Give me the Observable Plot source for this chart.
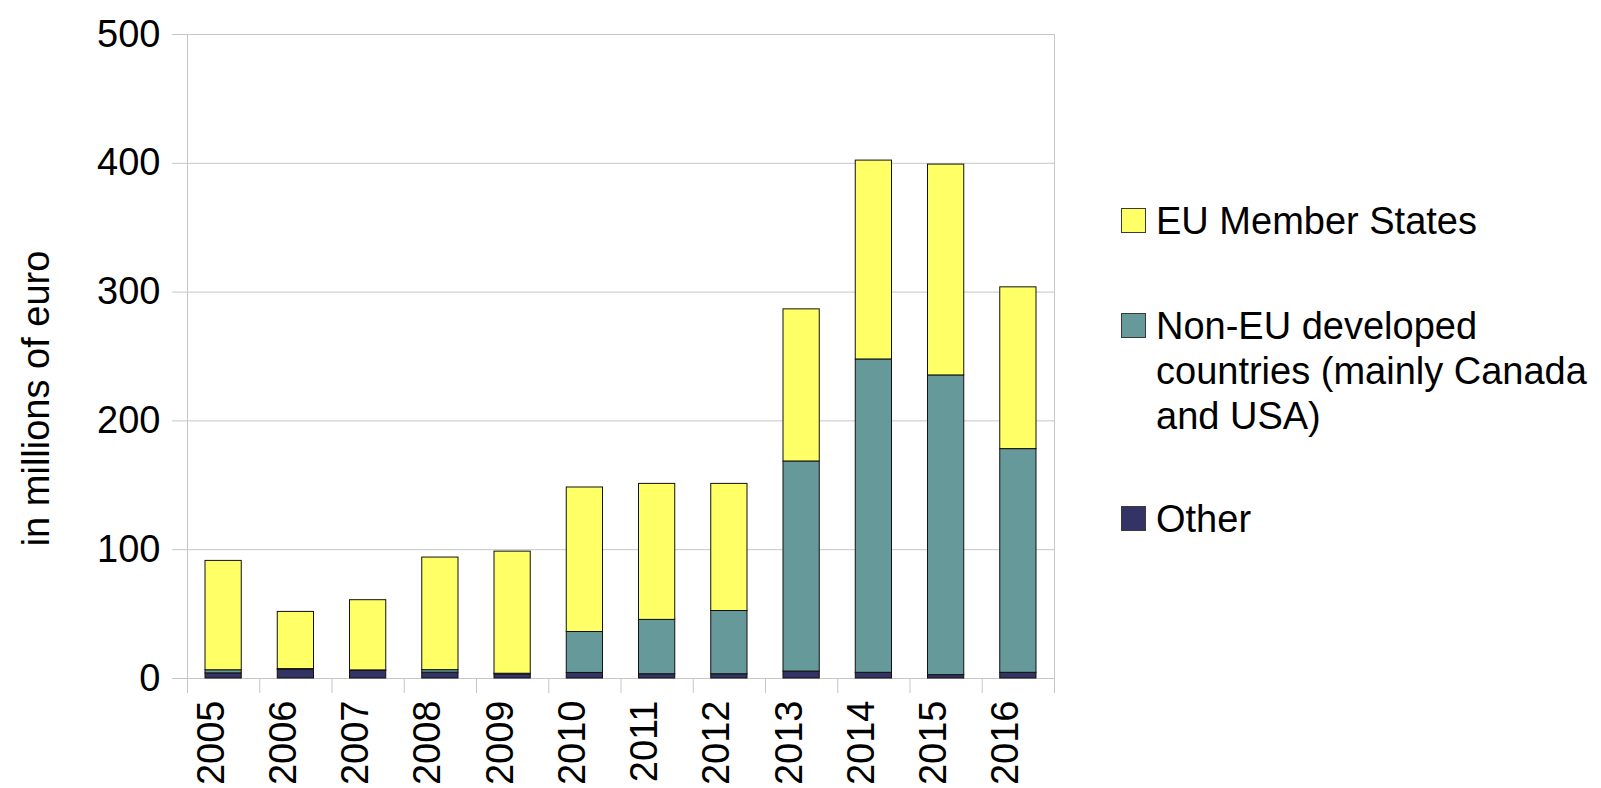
<!DOCTYPE html>
<html><head><meta charset="utf-8">
<script src="https://cdn.jsdelivr.net/npm/d3@7"></script>
<script src="https://cdn.jsdelivr.net/npm/@observablehq/plot@0.6"></script>
<style>
body{margin:0;background:#fff;overflow:hidden}
#wrap{position:relative;width:1601px;height:788px;font-family:"Liberation Sans",Arial,sans-serif}
.leg{position:absolute;left:1121px;font-size:38px;line-height:45px;color:#000}
.sw{position:absolute;left:0;width:23px;height:23px;border:1px solid #3a3a3a}
.lt{position:absolute;left:35px;white-space:nowrap}
</style></head><body><div id="wrap"></div>
<script>
const years = ["2005","2006","2007","2008","2009","2010","2011","2012","2013","2014","2015","2016"];
const seriesNames = ["EU Member States", "Non-EU developed countries (mainly Canada and USA)", "Other"];
const legendLines = [["EU Member States"], ["Non-EU developed", "countries (mainly Canada", "and USA)"], ["Other"]];
const seriesColors = ["#ffff66", "#669999", "#333366"];
const euValues    = [84.9, 44.4, 54.5, 87.4, 94.8, 112.2, 105.6, 98.7, 118.1, 154.4, 163.7, 125.6];
const nonEuValues = [2.4, 0.5, 0.3, 2.0, 0.5, 31.8, 42.2, 49.1, 163.1, 243.3, 232.7, 173.7];
const otherValues = [4.0, 6.8, 6.0, 4.5, 3.2, 4.3, 3.3, 3.3, 5.4, 4.4, 2.6, 4.4];
const yTicks = [0, 100, 200, 300, 400, 500];
const yTitle = "in millions of euro";

// stacked rows: Other at bottom, then Non-EU, then EU on top
const rows = years.flatMap((yr, i) => {
  let acc = 0;
  return [[seriesNames[2], otherValues[i]], [seriesNames[1], nonEuValues[i]], [seriesNames[0], euValues[i]]]
    .map(([s, v]) => ({i, s, y1: acc, y2: (acc += v)}));
});

const gridColor = "#c6c6c6";
const chart = Plot.plot({
  width: 1601,
  height: 788,
  marginLeft: 187,
  marginRight: 547,
  marginTop: 34,
  marginBottom: 110,
  style: {fontFamily: '"Liberation Sans", Arial, sans-serif', fontSize: "38px", color: "#000", background: "#fff"},
  x: {type: "linear", domain: [0, years.length], axis: null},
  y: {domain: [0, 500], axis: null},
  color: {domain: seriesNames, range: seriesColors},
  marks: [
    Plot.ruleY(yTicks, {y: d => d, stroke: gridColor, insetLeft: -15}),
    Plot.ruleX([0, years.length], {x: d => d, stroke: gridColor, insetBottom: -15}),
    Plot.ruleX(d3.range(1, years.length), {x: d => d, y1: () => 0, y2: () => 0, stroke: gridColor, insetBottom: -15}),
    Plot.rectY(rows, {x1: d => d.i, x2: d => d.i + 1, y1: "y1", y2: "y2", fill: "s", stroke: "#111", strokeWidth: 1, insetLeft: 18, insetRight: 18}),
    Plot.axisY({ticks: yTicks, tickSize: 0, tickPadding: 27, fontSize: 38, tickFormat: d => String(d)}),
    Plot.text(years, {x: (d, i) => i + 0.5, text: d => d, frameAnchor: "bottom", rotate: -90, textAnchor: "end", dy: 22, fontSize: 38}),
    Plot.text([yTitle], {text: d => d, frameAnchor: "left", rotate: -90, textAnchor: "middle", dx: -151, dy: 42, fontSize: 38})
  ]
});
const wrap = document.getElementById("wrap");
wrap.appendChild(chart);

// legend
const legendTops = [199, 304, 497];
legendLines.forEach((lines, k) => {
  const item = document.createElement("div");
  item.className = "leg";
  item.style.top = legendTops[k] + "px";
  const sw = document.createElement("div");
  sw.className = "sw";
  sw.style.background = seriesColors[k];
  sw.style.top = "9px";
  item.appendChild(sw);
  const t = document.createElement("div");
  t.className = "lt";
  t.innerHTML = lines.join("<br>");
  item.appendChild(t);
  wrap.appendChild(item);
});
</script></body></html>
